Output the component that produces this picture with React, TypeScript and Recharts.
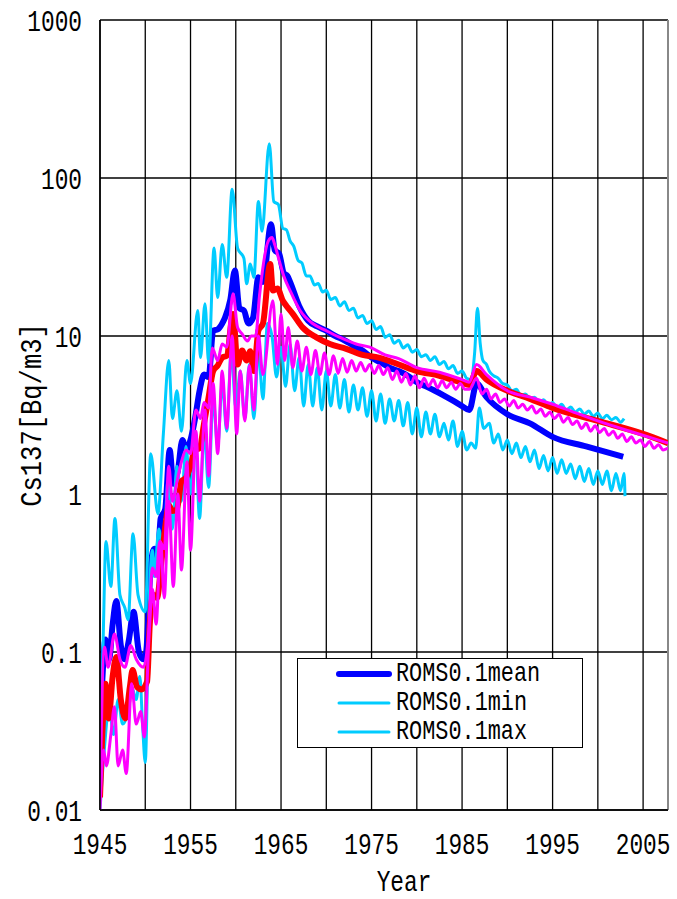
import { LineChart, Line, XAxis, YAxis, CartesianGrid, Legend, ReferenceLine } from 'recharts';

// [year, Bq/m3]
const meanBlue: [number, number][] = [
  [1945.0, 0.03], [1945.25, 0.065], [1945.6, 0.12], [1946.0, 0.09], [1946.4, 0.15], [1946.8, 0.21],
  [1947.3, 0.11], [1947.7, 0.09], [1948.2, 0.12], [1948.7, 0.18], [1949.3, 0.1], [1949.8, 0.09],
  [1950.1, 0.1], [1950.6, 0.35], [1951.0, 0.45], [1951.4, 0.42], [1951.7, 0.7], [1952.2, 0.8],
  [1952.7, 1.9], [1953.1, 1.16], [1953.6, 1.4], [1954.1, 2.2], [1954.5, 1.9], [1955.0, 2.2],
  [1955.5, 3.0], [1956.0, 4.5], [1956.5, 5.7], [1957.0, 5.5], [1957.5, 10.8], [1958.0, 11],
  [1958.5, 12], [1958.8, 13], [1959.4, 17], [1959.9, 26], [1960.4, 15], [1960.9, 14.5],
  [1961.4, 12], [1961.9, 13], [1962.5, 23.5], [1963.0, 22], [1963.9, 51], [1964.3, 35],
  [1964.8, 33], [1965.3, 25], [1965.7, 24], [1966.0, 22], [1967.0, 15.5], [1968.0, 12.5],
  [1969.0, 11.5], [1970.0, 10.8], [1971.0, 10], [1972.0, 9.4], [1973.0, 8.7], [1974.0, 8.1],
  [1975.0, 7.3], [1976.0, 6.8], [1977.0, 6.3], [1978.0, 6.0], [1979.0, 5.6], [1980.0, 5.1],
  [1981.0, 4.8], [1982.0, 4.5], [1983.0, 4.2], [1984.0, 3.9], [1985.0, 3.6], [1985.8, 3.4],
  [1986.6, 5.0], [1987.7, 4.1], [1990.0, 3.2], [1992.5, 2.8], [1995.0, 2.3], [1998.7, 2.0],
  [2002.8, 1.72],
];

const minCyan: [number, number][] = [
  [1945.0, 0.01], [1945.5, 0.025], [1946.0, 0.045], [1946.5, 0.03], [1947.0, 0.05], [1947.5, 0.035],
  [1948.0, 0.04], [1948.5, 0.06], [1949.0, 0.05], [1949.4, 0.07], [1949.7, 0.035], [1950.0, 0.02],
  [1950.4, 0.19], [1950.8, 0.44], [1951.0, 0.3], [1951.5, 0.6], [1952.0, 0.4], [1952.5, 1.2],
  [1953.0, 0.6], [1953.5, 1.5], [1954.0, 0.9], [1954.5, 2.0], [1955.0, 1.0], [1955.5, 2.5],
  [1956.0, 0.7], [1956.5, 2.5], [1957.0, 1.1], [1957.5, 4.0], [1958.0, 2.0], [1958.5, 5.0],
  [1959.0, 2.5], [1959.5, 8], [1960.0, 3.5], [1960.5, 6], [1961.0, 3.0], [1961.5, 6.6],
  [1962.0, 3.0], [1962.5, 8], [1963.0, 4], [1963.5, 12], [1964.0, 10], [1964.5, 5.5],
  [1965.0, 8.5], [1965.5, 4.8], [1966.0, 8.9], [1966.5, 4.5], [1967.0, 7.3], [1967.5, 3.6],
  [1968.0, 6.6], [1968.5, 3.6], [1969.0, 6.3], [1969.5, 3.4], [1970.0, 6.0], [1970.5, 3.6],
  [1971.0, 5.7], [1971.5, 3.5], [1972.0, 5.3], [1972.5, 3.3], [1973.0, 4.9], [1973.5, 3.4],
  [1974.0, 4.7], [1974.5, 3.1], [1975.0, 4.5], [1975.5, 2.9], [1976.0, 4.3], [1976.5, 2.8],
  [1977.0, 4.0], [1977.5, 2.9], [1978.0, 3.9], [1978.5, 2.7], [1979.0, 3.8], [1979.5, 2.4],
  [1980.0, 3.5], [1980.5, 2.3], [1981.0, 3.3], [1981.5, 2.4], [1982.0, 3.2], [1982.5, 2.3],
  [1983.0, 2.8], [1983.5, 2.2], [1984.0, 2.9], [1984.5, 2.0], [1985.0, 2.5], [1985.5, 1.9],
  [1986.0, 2.1], [1986.5, 1.95], [1986.9, 3.5], [1987.4, 2.6], [1988.0, 2.8], [1988.5, 2.1],
  [1989.0, 2.4], [1989.5, 1.9], [1990.0, 2.2], [1990.5, 1.8], [1991.0, 2.1], [1991.5, 1.7],
  [1992.0, 2.0], [1992.5, 1.6], [1993.0, 1.9], [1993.5, 1.45], [1994.0, 1.75], [1994.5, 1.4],
  [1995.0, 1.7], [1995.5, 1.35], [1996.0, 1.65], [1996.5, 1.35], [1997.0, 1.55], [1997.5, 1.25],
  [1998.0, 1.5], [1998.5, 1.2], [1999.0, 1.45], [1999.5, 1.15], [2000.0, 1.4], [2000.5, 1.15],
  [2001.0, 1.4], [2001.5, 1.05], [2002.0, 1.35], [2002.5, 1.05], [2002.9, 1.35], [2003.0, 0.97],
];

const maxCyan: [number, number][] = [
  [1945.0, 0.015], [1945.35, 0.12], [1945.66, 0.5], [1946.2, 0.26], [1946.65, 0.7], [1947.2, 0.23],
  [1947.75, 0.19], [1948.1, 0.16], [1948.65, 0.56], [1949.2, 0.23], [1950.0, 0.18], [1950.6, 1.8],
  [1951.4, 0.75], [1952.0, 2.4], [1952.6, 7.0], [1953.0, 3.0], [1953.5, 4.5], [1954.0, 2.5],
  [1954.6, 7.0], [1955.0, 5.0], [1955.8, 14.5], [1956.1, 7.3], [1956.6, 16], [1957.0, 6.8],
  [1957.6, 36], [1958.0, 17.5], [1958.5, 38], [1959.0, 23.5], [1959.6, 85], [1960.2, 36],
  [1960.9, 31], [1961.2, 21.4], [1961.6, 28.6], [1962.0, 23.5], [1962.5, 71], [1962.9, 46],
  [1963.7, 165], [1964.2, 71], [1964.7, 68], [1965.2, 48], [1965.6, 47], [1966.0, 40],
  [1966.4, 37], [1966.9, 30], [1967.3, 29], [1967.8, 24], [1968.2, 24], [1968.7, 21],
  [1969.1, 21.5], [1969.6, 19], [1970.0, 19.5], [1970.5, 17], [1971.0, 17.5], [1971.5, 15.5],
  [1972.0, 16.5], [1972.5, 14.5], [1973.0, 15], [1973.5, 13], [1974.0, 13.5], [1974.5, 12],
  [1975.0, 12.5], [1975.5, 11], [1976.0, 11.5], [1976.5, 9.8], [1977.0, 10.2], [1977.5, 9.0],
  [1978.0, 9.4], [1978.5, 8.4], [1979.0, 8.8], [1979.5, 7.9], [1980.0, 8.2], [1980.5, 7.4],
  [1981.0, 7.6], [1981.5, 7.0], [1982.0, 7.4], [1982.5, 6.6], [1983.0, 6.9], [1983.5, 6.2],
  [1984.0, 6.5], [1984.5, 5.8], [1985.0, 6.0], [1985.5, 5.4], [1986.0, 5.3], [1986.4, 8],
  [1986.7, 15], [1987.0, 9], [1987.3, 7], [1987.7, 6.6], [1988.0, 6.0], [1988.5, 5.6],
  [1989.0, 5.4], [1989.5, 5.0], [1990.0, 4.9], [1990.5, 4.5], [1991.0, 4.6], [1991.5, 4.2],
  [1992.0, 4.3], [1992.5, 4.0], [1993.0, 4.1], [1993.5, 3.8], [1994.0, 3.95], [1994.5, 3.65],
  [1995.0, 3.8], [1995.5, 3.5], [1996.0, 3.7], [1996.5, 3.4], [1997.0, 3.55], [1997.5, 3.3],
  [1998.0, 3.45], [1998.5, 3.2], [1999.0, 3.35], [1999.5, 3.1], [2000.0, 3.25], [2000.5, 3.0],
  [2001.0, 3.15], [2001.5, 2.95], [2002.0, 3.05], [2002.5, 2.85], [2002.9, 3.0],
];

const meanRed: [number, number][] = [
  [1945.0, 0.012], [1945.25, 0.03], [1945.6, 0.063], [1945.95, 0.038], [1946.4, 0.07], [1946.8, 0.093],
  [1947.3, 0.05], [1947.8, 0.038], [1948.3, 0.06], [1948.6, 0.077], [1949.1, 0.06], [1949.6, 0.058],
  [1950.2, 0.065], [1950.5, 0.15], [1950.9, 0.23], [1951.3, 0.22], [1951.8, 0.38], [1952.3, 0.68],
  [1952.6, 0.85], [1953.0, 0.78], [1953.5, 0.8], [1954.0, 1.2], [1954.5, 1.27], [1955.0, 1.5],
  [1955.5, 1.9], [1956.0, 1.95], [1956.5, 2.8], [1957.0, 4.1], [1957.5, 6.0], [1958.0, 6.5],
  [1958.5, 7.3], [1959.0, 7.5], [1959.7, 13.8], [1960.2, 6.6], [1960.7, 8.1], [1961.2, 7],
  [1961.6, 8], [1962.0, 6.0], [1962.5, 10.8], [1963.0, 12], [1963.8, 28.6], [1964.1, 19.4],
  [1964.6, 20], [1965.2, 16.7], [1965.6, 15.5], [1966.3, 13.8], [1967.4, 11.3], [1968.9, 9.8],
  [1970.4, 8.9], [1972.2, 8.3], [1974.0, 7.6], [1975.8, 7.3], [1978.0, 6.6], [1980.0, 6.0],
  [1982.5, 5.6], [1985.0, 5.05], [1985.8, 4.9], [1986.6, 6.0], [1987.7, 5.3], [1990.0, 4.5],
  [1992.5, 4.0], [1995.0, 3.5], [2000.0, 2.9], [2005.0, 2.4], [2007.75, 2.1],
];

const minMagenta: [number, number][] = [
  [1945.0, 0.01], [1945.4, 0.024], [1945.7, 0.019], [1946.2, 0.03], [1946.6, 0.045], [1947.0, 0.019],
  [1947.5, 0.024], [1947.9, 0.017], [1948.5, 0.063], [1949.0, 0.035], [1949.5, 0.042], [1949.9, 0.029],
  [1950.4, 0.12], [1950.8, 0.25], [1951.2, 0.15], [1951.7, 0.5], [1952.1, 0.22], [1952.6, 0.9],
  [1953.1, 0.26], [1953.6, 1.0], [1954.0, 0.33], [1954.6, 1.6], [1955.0, 0.44], [1955.6, 2.5],
  [1956.0, 0.9], [1956.6, 3.4], [1957.0, 1.3], [1957.5, 5], [1958.0, 1.8], [1958.5, 6],
  [1959.0, 2.6], [1959.6, 10], [1960.1, 2.4], [1960.5, 6], [1961.0, 2.9], [1961.5, 6.5],
  [1962.0, 3.4], [1962.5, 10], [1963.0, 5.7], [1964.1, 16.7], [1964.6, 6.6], [1965.0, 13.8],
  [1965.4, 7.0], [1965.8, 11.3], [1966.3, 6.3], [1966.8, 9.3], [1967.3, 6.0], [1967.8, 8.5],
  [1968.3, 5.7], [1968.8, 8.1], [1969.3, 5.7], [1969.8, 7.8], [1970.3, 5.7], [1970.8, 7.5],
  [1971.3, 5.8], [1971.8, 7.2], [1972.3, 5.9], [1972.8, 7.0], [1973.3, 6.0], [1973.8, 6.8],
  [1974.3, 6.0], [1974.8, 6.6], [1975.3, 5.8], [1975.8, 6.5], [1976.3, 5.7], [1976.8, 6.3],
  [1977.3, 5.3], [1977.8, 6.0], [1978.3, 5.1], [1978.8, 5.8], [1979.3, 4.9], [1979.8, 5.6],
  [1980.3, 4.7], [1980.8, 5.4], [1981.3, 4.8], [1981.8, 5.3], [1982.3, 4.7], [1982.8, 5.2],
  [1983.3, 4.7], [1983.8, 5.1], [1984.3, 4.6], [1984.8, 5.0], [1985.3, 4.6], [1985.8, 4.6],
  [1986.6, 5.4], [1987.2, 4.3], [1987.7, 4.6], [1988.2, 4.0], [1988.7, 4.3], [1989.2, 3.8],
  [1989.7, 4.0], [1990.2, 3.6], [1990.7, 3.9], [1991.2, 3.5], [1991.7, 3.7], [1992.2, 3.4],
  [1992.7, 3.6], [1993.2, 3.25], [1993.7, 3.45], [1994.2, 3.1], [1994.7, 3.3], [1995.2, 3.0],
  [1995.7, 3.2], [1996.2, 2.85], [1996.7, 3.05], [1997.2, 2.75], [1997.7, 2.9], [1998.2, 2.6],
  [1998.7, 2.8], [1999.2, 2.5], [1999.7, 2.7], [2000.2, 2.45], [2000.7, 2.6], [2001.2, 2.35],
  [2001.7, 2.5], [2002.2, 2.25], [2002.7, 2.4], [2003.2, 2.15], [2003.7, 2.3], [2004.2, 2.1],
  [2004.7, 2.2], [2005.2, 2.0], [2005.7, 2.15], [2006.2, 1.95], [2006.7, 2.05], [2007.2, 1.9],
  [2007.75, 1.95],
];

const maxMagenta: [number, number][] = [
  [1945.0, 0.012], [1945.5, 0.107], [1945.9, 0.08], [1946.6, 0.13], [1947.2, 0.09], [1947.75, 0.08],
  [1948.4, 0.11], [1949.0, 0.09], [1949.8, 0.08], [1950.3, 0.117], [1950.8, 0.34], [1951.2, 0.3],
  [1951.6, 0.5], [1952.1, 0.45], [1952.6, 1.5], [1953.0, 0.9], [1953.5, 1.2], [1954.0, 1.6],
  [1954.5, 1.9], [1955.0, 1.8], [1955.6, 3.4], [1956.1, 3.0], [1956.5, 3.8], [1957.0, 3.5],
  [1957.4, 8.4], [1958.0, 7], [1958.5, 8.9], [1959.0, 8.5], [1959.7, 18.5], [1960.2, 11.3],
  [1960.7, 10.3], [1961.3, 9.3], [1961.7, 10], [1962.2, 10], [1962.6, 17.5], [1963.6, 40],
  [1964.0, 42], [1964.3, 38], [1964.8, 30], [1965.3, 24], [1966.0, 19.4], [1967.1, 14.5],
  [1968.5, 12], [1970.0, 10.8], [1971.5, 9.8], [1973.3, 8.9], [1974.8, 8.5], [1976.5, 7.6],
  [1978.0, 7.2], [1980.0, 6.3], [1982.5, 5.9], [1985.0, 5.3], [1985.8, 5.1], [1986.6, 6.6],
  [1987.7, 5.7], [1990.0, 4.5], [1992.5, 4.1], [1995.0, 3.7], [1997.3, 3.3], [2000.0, 2.9],
  [2004.0, 2.45], [2007.75, 2.1],
];

const xTicks = [1945, 1950, 1955, 1960, 1965, 1970, 1975, 1980, 1985, 1990, 1995, 2000, 2005];
const yTicks = [0.01, 0.1, 1, 10, 100, 1000];
const xMax = 2007.75;
const legendNames = ['ROMS0.1mean', 'ROMS0.1min', 'ROMS0.1max'];
const legendWidths: Record<string, number> = { 'ROMS0.1mean': 6, 'ROMS0.1min': 3, 'ROMS0.1max': 3 };

// MS Gothic look-alike: monospaced, squeezed horizontally
const FONT = "'Liberation Mono', 'DejaVu Sans Mono', monospace";

const rows = (pts: [number, number][]) => pts.map(([year, v]) => ({ year, v }));

const XTick = ({ x, y, payload }: any) =>
  payload.value % 10 === 5 ? (
    <text transform={`translate(${x},${y + 36}) scale(0.76,1)`} textAnchor="middle" fontSize={30} fontFamily={FONT} fill="#000">
      {payload.value}
    </text>
  ) : null;

const YTick = ({ x, y, payload }: any) => (
  <text transform={`translate(${x - 10},${y + 11}) scale(0.76,1)`} textAnchor="end" fontSize={30} fontFamily={FONT} fill="#000">
    {String(payload.value)}
  </text>
);

const YTitle = ({ viewBox }: any) => {
  const cx = viewBox.x + 33;
  const cy = viewBox.y + viewBox.height / 2;
  return (
    <text transform={`translate(${cx},${cy}) rotate(-90) scale(0.85,1)`} textAnchor="middle" dominantBaseline="central"
      fontSize={30} fontFamily={FONT} fill="#000">
      Cs137[Bq/m3]
    </text>
  );
};

const XTitle = ({ viewBox }: any) => {
  const cx = viewBox.x + viewBox.width / 2 + 20;
  const by = viewBox.y + viewBox.height - 8;
  return (
    <text transform={`translate(${cx},${by}) scale(0.76,1)`} textAnchor="middle" fontSize={30} fontFamily={FONT} fill="#000">
      Year
    </text>
  );
};

const renderLegend = ({ payload }: any) => {
  const items = legendNames
    .map((n) => (payload || []).find((p: any) => p.value === n))
    .filter(Boolean);
  return (
    <div style={{ position: 'relative', width: 286, height: 90, border: '1.5px solid #000', background: '#fff', boxSizing: 'border-box' }}>
      {items.map((p: any, i: number) => (
        <div key={p.value} style={{ position: 'absolute', left: 38, top: 0 + i * 29, height: 29, display: 'flex', alignItems: 'center', whiteSpace: 'nowrap' }}>
          <svg width={56} height={10} style={{ marginRight: 4 }}>
            <line x1={3} y1={5} x2={53} y2={5} stroke={p.color} strokeWidth={legendWidths[p.value]} strokeLinecap="round" />
          </svg>
          <span style={{ fontFamily: FONT, fontSize: 28, color: '#000', lineHeight: '29px', display: 'inline-block', transform: 'scaleX(0.78)', transformOrigin: 'left center' }}>
            {p.value}
          </span>
        </div>
      ))}
    </div>
  );
};

export default function App() {
  return (
    <div style={{ position: 'absolute', left: 0, top: 0, background: '#fff' }}>
      <LineChart width={677} height={899} margin={{ top: 20, right: 9, left: 0, bottom: 0 }}>
        <CartesianGrid stroke="#000" strokeWidth={1.3} />
        <XAxis
          type="number"
          dataKey="year"
          domain={[1945, xMax]}
          ticks={xTicks}
          interval={0}
          allowDataOverflow
          height={89}
          tickLine={false}
          axisLine={{ stroke: '#000', strokeWidth: 1.5 }}
          tick={<XTick />}
          label={XTitle}
        />
        <YAxis
          type="number"
          scale="log"
          domain={[0.01, 1000]}
          ticks={yTicks}
          interval={0}
          allowDataOverflow
          width={100}
          tickLine={false}
          axisLine={{ stroke: '#000', strokeWidth: 1.5 }}
          tick={<YTick />}
          label={YTitle}
        />
        <ReferenceLine x={xMax} stroke="#888" strokeWidth={2} />
        <Legend
          layout="vertical"
          align="center"
          verticalAlign="middle"
          content={renderLegend}
          wrapperStyle={{ left: 297, top: 658, width: 286, height: 90 }}
        />
        <Line data={rows(meanBlue)} dataKey="v" name="ROMS0.1mean" type="monotone" stroke="#0000FF" strokeWidth={6} dot={false} isAnimationActive={false} />
        <Line data={rows(minCyan)} dataKey="v" name="ROMS0.1min" type="monotone" stroke="#00CCFF" strokeWidth={3} dot={false} isAnimationActive={false} />
        <Line data={rows(maxCyan)} dataKey="v" name="ROMS0.1max" type="monotone" stroke="#00CCFF" strokeWidth={3} dot={false} isAnimationActive={false} />
        <Line data={rows(meanRed)} dataKey="v" name="mean2" legendType="none" type="monotone" stroke="#FF0000" strokeWidth={6} dot={false} isAnimationActive={false} />
        <Line data={rows(minMagenta)} dataKey="v" name="min2" legendType="none" type="monotone" stroke="#FF00FF" strokeWidth={3} dot={false} isAnimationActive={false} />
        <Line data={rows(maxMagenta)} dataKey="v" name="max2" legendType="none" type="monotone" stroke="#FF00FF" strokeWidth={3} dot={false} isAnimationActive={false} />
      </LineChart>
    </div>
  );
}
